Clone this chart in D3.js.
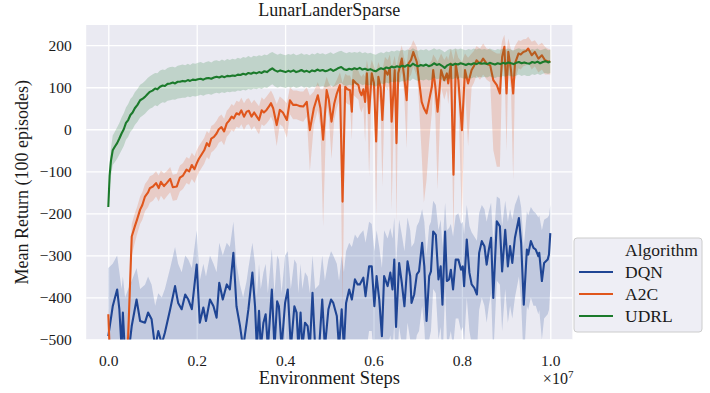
<!DOCTYPE html>
<html>
<head>
<meta charset="utf-8">
<script src="https://cdn.jsdelivr.net/npm/d3@7"></script>
<style>
  body { margin: 0; background: #fff; }
  svg text { font-family: "Liberation Serif", "Times New Roman", serif; fill: #1a1a1a; }
</style>
</head>
<body>
<svg width="710" height="393"></svg>
<script>
const algorithms = ["DQN", "A2C", "UDRL"];
const colors = ["#1f4594", "#e0561c", "#1b7a2b"];

const xTicks = [0, 0.2, 0.4, 0.6, 0.8, 1.0];
const yTicks = [-500, -400, -300, -200, -100, 0, 100, 200];

// steps are in units of 1e7 environment steps
const dqnSteps = [
  0, 0.010, 0.020, 0.025, 0.030, 0.033, 0.038, 0.045, 0.053, 0.064,
  0.072, 0.083, 0.090, 0.098, 0.106, 0.113, 0.121, 0.128, 0.140, 0.151,
  0.158, 0.166, 0.174, 0.181, 0.189, 0.200, 0.207, 0.215, 0.221, 0.230,
  0.238, 0.245, 0.251, 0.259, 0.268, 0.275, 0.283, 0.290, 0.298, 0.305,
  0.313, 0.317, 0.326, 0.332, 0.336, 0.341, 0.345, 0.351, 0.356, 0.361,
  0.370, 0.376, 0.382, 0.386, 0.392, 0.400, 0.406, 0.413, 0.421, 0.426,
  0.430, 0.435, 0.439, 0.445, 0.451, 0.456, 0.462, 0.468, 0.477, 0.484,
  0.490, 0.498, 0.504, 0.509, 0.517, 0.522, 0.528, 0.533, 0.538, 0.545,
  0.551, 0.558, 0.564, 0.569, 0.577, 0.582, 0.590, 0.596, 0.602, 0.607,
  0.613, 0.619, 0.624, 0.632, 0.638, 0.643, 0.647, 0.651, 0.658, 0.664,
  0.670, 0.677, 0.683, 0.686, 0.692, 0.698, 0.703, 0.710, 0.715, 0.720,
  0.726, 0.730, 0.735, 0.741, 0.747, 0.752, 0.756, 0.762, 0.766, 0.771,
  0.775, 0.780, 0.786, 0.792, 0.798, 0.802, 0.805, 0.811, 0.817, 0.822,
  0.828, 0.834, 0.839, 0.845, 0.851, 0.856, 0.861, 0.866, 0.871, 0.879,
  0.886, 0.891, 0.898, 0.904, 0.909, 0.914, 0.920, 0.929, 0.934, 0.940,
  0.947, 0.950, 0.956, 0.962, 0.967, 0.973, 0.975, 0.981, 0.986, 0.994,
  0.997, 1.000
];
const dqnMean = [
  -492, -421, -381, -428, -520, -436, -540, -540, -468, -405,
  -456, -460, -436, -452, -520, -480, -510, -484, -428, -373,
  -413, -428, -393, -405, -428, -322, -460, -424, -456, -405,
  -421, -448, -365, -405, -369, -381, -294, -421, -468, -520,
  -460, -428, -341, -421, -520, -432, -520, -460, -440, -520,
  -381, -520, -409, -421, -520, -413, -381, -520, -421, -436,
  -520, -436, -520, -460, -468, -520, -389, -520, -520, -405,
  -520, -428, -405, -413, -444, -520, -428, -520, -413, -381,
  -405, -357, -369, -369, -353, -397, -326, -326, -421, -349,
  -405, -492, -349, -373, -341, -381, -310, -470, -318, -365,
  -421, -314, -349, -413, -393, -345, -338, -270, -326, -456,
  -349, -338, -243, -251, -357, -326, -417, -243, -361, -357,
  -334, -381, -310, -310, -334, -326, -373, -262, -341, -369,
  -377, -393, -294, -266, -278, -322, -286, -258, -401, -219,
  -231, -338, -239, -326, -278, -318, -258, -211, -270, -417,
  -286, -298, -266, -282, -286, -302, -294, -361, -318, -310,
  -298, -247
];
const dqnLow = [
  -600, -600, -600, -600, -600, -600, -600, -600, -600, -600,
  -600, -600, -600, -600, -600, -600, -600, -600, -600, -600,
  -600, -600, -600, -600, -600, -600, -600, -600, -600, -600,
  -600, -600, -600, -600, -600, -600, -600, -600, -600, -600,
  -600, -600, -600, -600, -600, -600, -600, -600, -600, -600,
  -600, -600, -600, -600, -600, -600, -600, -600, -600, -600,
  -600, -600, -600, -600, -600, -600, -600, -600, -600, -600,
  -600, -600, -600, -600, -600, -600, -600, -600, -560, -540,
  -560, -520, -520, -520, -500, -540, -480, -480, -560, -500,
  -540, -600, -500, -520, -490, -530, -460, -600, -470, -510,
  -560, -460, -500, -550, -530, -490, -480, -420, -470, -580,
  -500, -480, -380, -390, -500, -470, -560, -380, -500, -500,
  -480, -520, -450, -450, -480, -470, -510, -400, -480, -510,
  -520, -530, -430, -400, -420, -460, -420, -390, -540, -360,
  -370, -480, -380, -460, -420, -450, -400, -350, -410, -560,
  -420, -430, -400, -420, -420, -440, -430, -500, -450, -440,
  -430, -380
];
const dqnHigh = [
  -330, -320, -300, -340, -380, -350, -400, -380, -360, -330,
  -380, -370, -350, -370, -420, -390, -400, -380, -330, -280,
  -320, -340, -300, -310, -330, -240, -360, -320, -350, -300,
  -320, -340, -270, -300, -270, -280, -220, -320, -370, -400,
  -360, -330, -270, -320, -400, -320, -380, -340, -320, -390,
  -285, -390, -300, -310, -390, -300, -290, -380, -310, -320,
  -390, -320, -380, -340, -350, -390, -300, -380, -370, -300,
  -360, -310, -290, -300, -320, -360, -300, -340, -290, -270,
  -280, -250, -260, -250, -240, -270, -220, -225, -290, -240,
  -280, -330, -240, -260, -235, -260, -210, -320, -215, -250,
  -290, -210, -240, -280, -270, -230, -220, -190, -220, -300,
  -230, -220, -170, -180, -240, -215, -280, -175, -240, -235,
  -225, -255, -205, -200, -225, -220, -250, -180, -230, -245,
  -255, -265, -200, -180, -190, -220, -195, -175, -270, -160,
  -165, -230, -170, -220, -190, -215, -180, -155, -185, -280,
  -195, -205, -185, -195, -200, -210, -205, -240, -215, -210,
  -205, -180
];

const a2cSteps = [
  0, 0.006, 0.036, 0.045, 0.053, 0.060, 0.065, 0.072, 0.077, 0.083,
  0.090, 0.094, 0.101, 0.108, 0.114, 0.119, 0.126, 0.132, 0.140, 0.146,
  0.155, 0.162, 0.169, 0.177, 0.183, 0.189, 0.195, 0.200, 0.205, 0.211,
  0.217, 0.223, 0.228, 0.233, 0.239, 0.245, 0.250, 0.256, 0.262, 0.268,
  0.273, 0.279, 0.284, 0.290, 0.296, 0.301, 0.307, 0.313, 0.318, 0.324,
  0.330, 0.336, 0.341, 0.347, 0.352, 0.358, 0.364, 0.368, 0.373, 0.381,
  0.388, 0.395, 0.404, 0.411, 0.418, 0.426, 0.434, 0.441, 0.449, 0.456,
  0.465, 0.474, 0.480, 0.486, 0.494, 0.499, 0.505, 0.511, 0.517, 0.524,
  0.530, 0.536, 0.541, 0.547, 0.551, 0.554, 0.560, 0.566, 0.569, 0.573,
  0.577, 0.581, 0.585, 0.590, 0.596, 0.601, 0.606, 0.611, 0.616, 0.620,
  0.626, 0.632, 0.637, 0.641, 0.648, 0.652, 0.656, 0.664, 0.669, 0.675,
  0.679, 0.685, 0.690, 0.698, 0.701, 0.709, 0.714, 0.720, 0.726, 0.732,
  0.735, 0.740, 0.745, 0.753, 0.760, 0.766, 0.769, 0.775, 0.781, 0.786,
  0.792, 0.800, 0.807, 0.814, 0.822, 0.827, 0.833, 0.841, 0.848, 0.856,
  0.864, 0.871, 0.879, 0.886, 0.891, 0.896, 0.901, 0.905, 0.911, 0.916,
  0.920, 0.928, 0.933, 0.939, 0.945, 0.950, 0.958, 0.965, 0.973, 0.981,
  0.988, 0.994, 1.000
];
const a2cMean = [
  -440, -600, -600, -492, -255, -231, -215, -191, -180, -160,
  -150, -140, -136, -128, -140, -125, -135, -128, -118, -138,
  -136, -115, -110, -96, -100, -85, -95, -81, -70, -60,
  -50, -33, -40, -22, -18, -10, 0, 5, -5, 14,
  20, 30, 26, 38, 35, 45, 30, 42, 44, 30,
  40, 30, 22, 45, 40, 46, 55, 62, 50, 10,
  46, 40, 22, 69, 58, 58, 55, 54, 65, -2,
  50, 81, 50, -25, 93, 70, 18, 60, 85, 105,
  -172, 101, 95, 93, 42, 117, 110, 105, 90, 81,
  95, 65, 133, 38, 133, 110, -29, 125, 100, 22,
  141, 130, 145, 18, 141, -33, 133, 168, 130, 69,
  156, 165, 184, 160, 133, 65, 50, 38, 70, 101,
  141, 100, 42, 141, 117, 133, 109, 156, -108, 156,
  117, -2, 141, 109, 141, 150, 164, 156, 168, 156,
  152, 117, 105, 85, 172, 196, 85, 184, 141, 85,
  156, 180, 178, 184, 186, 192, 176, 184, 168, 176,
  164, 162, 160
];
const a2cLow = [
  -520, -640, -640, -540, -300, -270, -250, -225, -215, -195,
  -185, -175, -170, -160, -172, -158, -168, -160, -150, -170,
  -168, -148, -142, -128, -132, -118, -128, -114, -102, -92,
  -82, -66, -72, -55, -50, -42, -32, -28, -38, -18,
  -12, -2, -6, 6, 3, 12, -2, 10, 12, -2,
  8, -4, -12, 12, 8, 14, 22, 30, 18, -40,
  12, 6, -20, 36, 24, 24, 20, 18, 30, -100,
  10, 45, 5, -231, 58, 30, -70, 20, 50, 72,
  -430, 66, 60, 58, -25, 82, 76, 70, 50, 40,
  55, -30, 98, -112, 98, 70, -207, 88, 55, -136,
  105, 92, 110, -191, 105, -223, 95, 135, 90, -45,
  120, 130, 150, 125, 95, -60, -175, -120, -30, 40,
  100, 30, -144, 100, 70, 92, 60, 118, -250, 118,
  70, -220, 100, -41, 100, 110, 128, 118, 130, 118,
  112, -49, -89, -89, 130, 160, -53, 145, 95, -120,
  115, 145, 142, 150, 152, 158, 142, 150, 135, 142,
  130, 130, 130
];
const a2cHigh = [
  -425, -560, -560, -450, -225, -200, -185, -160, -150, -130,
  -120, -112, -108, -100, -110, -98, -105, -100, -90, -108,
  -106, -86, -80, -66, -70, -56, -64, -50, -40, -30,
  -20, -4, -10, 8, 12, 20, 30, 35, 25, 44,
  50, 60, 56, 68, 65, 75, 62, 72, 74, 62,
  70, 62, 55, 76, 70, 78, 86, 92, 82, 60,
  78, 72, 62, 100, 92, 92, 90, 90, 100, 80,
  90, 112, 95, 95, 125, 110, 100, 105, 118, 135,
  110, 132, 128, 128, 115, 148, 142, 140, 130, 125,
  132, 125, 165, 135, 165, 150, 135, 160, 145, 140,
  172, 165, 178, 145, 175, 145, 170, 200, 170, 150,
  190, 198, 212, 195, 175, 150, 150, 148, 155, 165,
  178, 170, 160, 180, 165, 175, 165, 192, 165, 192,
  170, 160, 180, 170, 180, 186, 198, 192, 204, 192,
  190, 185, 180, 180, 210, 225, 185, 216, 190, 185,
  198, 212, 210, 214, 215, 220, 208, 212, 200, 206,
  196, 192, 190
];

const udrlSteps = [
  0, 0.003, 0.006, 0.01, 0.015, 0.02, 0.025, 0.03, 0.035, 0.04,
  0.045, 0.05, 0.055, 0.06, 0.066, 0.072, 0.078, 0.083, 0.089, 0.094,
  0.1, 0.106, 0.111, 0.117, 0.123, 0.128, 0.134, 0.14, 0.146, 0.151,
  0.157, 0.162, 0.168, 0.174, 0.18, 0.185, 0.191, 0.197, 0.203, 0.209,
  0.215, 0.221, 0.227, 0.233, 0.239, 0.245, 0.251, 0.257, 0.263, 0.269,
  0.275, 0.281, 0.287, 0.293, 0.299, 0.305, 0.311, 0.317, 0.323, 0.329,
  0.335, 0.341, 0.347, 0.353, 0.359, 0.365, 0.371, 0.377, 0.383, 0.389,
  0.395, 0.401, 0.407, 0.413, 0.419, 0.425, 0.431, 0.437, 0.443, 0.449,
  0.455, 0.461, 0.467, 0.473, 0.479, 0.485, 0.491, 0.497, 0.503, 0.509,
  0.515, 0.521, 0.527, 0.533, 0.539, 0.545, 0.551, 0.557, 0.563, 0.569,
  0.575, 0.581, 0.587, 0.593, 0.599, 0.605, 0.611, 0.617, 0.623, 0.629,
  0.635, 0.641, 0.647, 0.653, 0.659, 0.665, 0.671, 0.677, 0.683, 0.689,
  0.695, 0.701, 0.707, 0.713, 0.719, 0.725, 0.731, 0.737, 0.743, 0.749,
  0.755, 0.761, 0.767, 0.773, 0.779, 0.785, 0.791, 0.797, 0.803, 0.809,
  0.815, 0.821, 0.827, 0.833, 0.839, 0.845, 0.851, 0.857, 0.863, 0.869,
  0.875, 0.881, 0.887, 0.893, 0.899, 0.905, 0.911, 0.917, 0.923, 0.929,
  0.935, 0.941, 0.947, 0.953, 0.959, 0.965, 0.971, 0.977, 0.983, 0.989,
  0.995, 1
];
const udrlMean = [
  -185, -110, -75, -50, -41, -33, -22, -10, 0, 15,
  22, 34, 40, 50, 58, 69, 73, 77, 84, 89,
  92, 97, 95, 101, 104, 103, 108, 109, 111, 109,
  113, 113, 115, 114, 117, 115, 118, 117, 119, 120,
  118, 121, 122, 120, 123, 125, 123, 126, 124, 127,
  126, 128, 127, 130, 129, 132, 130, 134, 132, 135,
  133, 136, 134, 138, 136, 141, 145, 140, 137, 140,
  138, 136, 139, 137, 140, 136, 138, 141, 137, 139,
  136, 140, 138, 142, 139, 141, 138, 140, 143, 139,
  142, 146, 148, 143, 141, 144, 142, 145, 143, 146,
  142, 144, 141, 143, 140, 138, 142, 145, 143, 147,
  145, 149, 147, 150, 148, 151, 149, 153, 150, 156,
  152, 150, 153, 151, 154, 150, 152, 157, 153, 155,
  151, 146, 152, 155, 153, 156, 154, 157, 155, 153,
  156, 154, 157, 155, 158, 156, 157, 155, 158, 156,
  154, 157, 155, 158, 156, 159, 157, 155, 158, 160,
  157, 159, 157, 156, 160, 158, 161, 157, 160, 162,
  159, 161
];
const udrlLow = [
  -195, -140, -110, -85, -78, -70, -60, -50, -40, -25,
  -18, -6, 0, 10, 18, 28, 33, 37, 44, 49,
  52, 57, 55, 61, 64, 63, 68, 69, 71, 70,
  73, 74, 75, 75, 78, 76, 79, 78, 80, 82,
  80, 83, 84, 82, 85, 87, 85, 88, 86, 89,
  88, 90, 89, 92, 91, 94, 92, 96, 94, 97,
  95, 98, 96, 100, 98, 103, 107, 102, 99, 102,
  100, 98, 101, 99, 102, 98, 100, 103, 99, 101,
  98, 102, 100, 104, 101, 103, 100, 102, 105, 101,
  104, 108, 110, 105, 103, 106, 104, 108, 106, 109,
  105, 107, 104, 106, 104, 102, 106, 109, 107, 111,
  109, 113, 111, 114, 112, 115, 113, 117, 115, 121,
  117, 115, 118, 116, 119, 116, 118, 123, 119, 121,
  117, 112, 118, 121, 119, 122, 120, 123, 121, 120,
  123, 121, 124, 122, 125, 123, 125, 123, 126, 124,
  122, 125, 124, 127, 125, 128, 126, 125, 128, 130,
  127, 129, 127, 127, 131, 129, 132, 129, 132, 134,
  132, 134
];
const udrlHigh = [
  -175, -85, -45, -15, -5, 5, 15, 28, 38, 52,
  60, 72, 78, 88, 96, 106, 110, 115, 122, 126,
  130, 134, 133, 140, 142, 141, 146, 148, 149, 147,
  151, 152, 154, 152, 156, 153, 157, 156, 158, 160,
  157, 160, 162, 159, 163, 164, 162, 166, 163, 167,
  165, 168, 166, 170, 168, 172, 170, 174, 171, 175,
  173, 176, 174, 178, 176, 181, 184, 180, 177, 180,
  178, 176, 179, 177, 180, 176, 178, 181, 177, 179,
  176, 180, 178, 182, 179, 181, 178, 180, 183, 179,
  182, 185, 187, 183, 181, 184, 182, 184, 182, 185,
  181, 183, 180, 182, 179, 177, 181, 183, 181, 185,
  183, 187, 185, 188, 186, 189, 187, 190, 188, 193,
  189, 187, 190, 188, 191, 187, 189, 193, 189, 191,
  188, 183, 188, 191, 189, 192, 190, 192, 190, 188,
  191, 189, 192, 190, 192, 190, 191, 189, 192, 190,
  188, 191, 189, 192, 190, 192, 190, 188, 191, 193,
  190, 191, 189, 188, 191, 189, 192, 188, 190, 192,
  188, 189
];

const zip = (steps, mean, low, high) =>
  steps.map((s, i) => ({ s, mean: mean[i], low: low[i], high: high[i] }));

const series = [
  zip(dqnSteps, dqnMean, dqnLow, dqnHigh),
  zip(a2cSteps, a2cMean, a2cLow, a2cHigh),
  zip(udrlSteps, udrlMean, udrlLow, udrlHigh),
];

const plotLeft = 86.2, plotRight = 572.4, plotTop = 25, plotBottom = 339.5;

const x = d3.scaleLinear().domain([-0.05, 1.05]).range([plotLeft, plotRight]);
const y = d3.scaleLinear().domain([-500, 248]).range([plotBottom, plotTop]);

const svg = d3.select("svg");

svg.append("defs").append("clipPath")
  .attr("id", "plot-clip")
  .append("rect")
  .attr("x", plotLeft).attr("y", plotTop)
  .attr("width", plotRight - plotLeft).attr("height", plotBottom - plotTop);

svg.append("rect")
  .attr("x", plotLeft).attr("y", plotTop)
  .attr("width", plotRight - plotLeft).attr("height", plotBottom - plotTop)
  .attr("fill", "#eaeaf2");

// white grid
svg.append("g")
  .attr("transform", `translate(0,${plotBottom})`)
  .call(d3.axisBottom(x).tickValues(xTicks).tickSize(-(plotBottom - plotTop)).tickFormat(""))
  .call(g => g.select(".domain").remove())
  .call(g => g.selectAll("line").attr("stroke", "#fff").attr("stroke-width", 1.3));

svg.append("g")
  .attr("transform", `translate(${plotLeft},0)`)
  .call(d3.axisLeft(y).tickValues(yTicks).tickSize(-(plotRight - plotLeft)).tickFormat(""))
  .call(g => g.select(".domain").remove())
  .call(g => g.selectAll("line").attr("stroke", "#fff").attr("stroke-width", 1.3));

// tick labels
const minus = d => d < 0 ? "\u2212" + (-d) : String(d);

svg.append("g")
  .attr("transform", `translate(0,${plotBottom})`)
  .call(d3.axisBottom(x).tickValues(xTicks).tickSize(0).tickPadding(15).tickFormat(d3.format(".1f")))
  .call(g => g.select(".domain").remove())
  .call(g => g.selectAll("text").attr("font-size", 15.5).attr("font-family", null));

svg.append("g")
  .attr("transform", `translate(${plotLeft},0)`)
  .call(d3.axisLeft(y).tickValues(yTicks).tickSize(0).tickPadding(14.5).tickFormat(minus))
  .call(g => g.select(".domain").remove())
  .call(g => g.selectAll("text").attr("font-size", 15.5).attr("font-family", null));

// bands and lines
const plot = svg.append("g").attr("clip-path", "url(#plot-clip)");

const area = d3.area()
  .x(d => x(d.s))
  .y0(d => y(d.low))
  .y1(d => y(d.high));

const line = d3.line()
  .x(d => x(d.s))
  .y(d => y(d.mean));

series.forEach((data, i) => {
  plot.append("path")
    .datum(data)
    .attr("d", area)
    .attr("fill", colors[i])
    .attr("fill-opacity", 0.2);
  plot.append("path")
    .datum(data)
    .attr("d", line)
    .attr("fill", "none")
    .attr("stroke", colors[i])
    .attr("stroke-width", 2.1)
    .attr("stroke-linejoin", "round");
});

// titles
const midX = (plotLeft + plotRight) / 2;

svg.append("text")
  .attr("x", midX).attr("y", 16)
  .attr("text-anchor", "middle")
  .attr("font-size", 18)
  .text("LunarLanderSparse");

svg.append("text")
  .attr("x", midX).attr("y", 384)
  .attr("text-anchor", "middle")
  .attr("font-size", 18.5)
  .text("Environment Steps");

svg.append("text")
  .attr("transform", `translate(28,${(plotTop + plotBottom) / 2}) rotate(-90)`)
  .attr("text-anchor", "middle")
  .attr("font-size", 18)
  .text("Mean Return (100 episodes)");

const offset = svg.append("text")
  .attr("x", plotRight + 1).attr("y", 384)
  .attr("text-anchor", "end")
  .attr("font-size", 16);
offset.append("tspan").text("\u00d710");
offset.append("tspan").attr("dy", -6).attr("font-size", 11).text("7");

// legend
const legend = svg.append("g").attr("transform", "translate(574,238)");

legend.append("rect")
  .attr("width", 128).attr("height", 94)
  .attr("rx", 3)
  .attr("fill", "#eaeaf2").attr("fill-opacity", 0.8)
  .attr("stroke", "#cccccc");

legend.append("text")
  .attr("x", 51).attr("y", 18)
  .attr("font-size", 17.5)
  .text("Algorithm");

const items = legend.selectAll("g.item")
  .data(algorithms)
  .enter()
  .append("g")
  .attr("class", "item")
  .attr("transform", (d, i) => `translate(0,${34 + i * 22})`);

items.append("line")
  .attr("x1", 5).attr("x2", 39)
  .attr("stroke", (d, i) => colors[i])
  .attr("stroke-width", 2.1);

items.append("text")
  .attr("x", 51).attr("y", 6)
  .attr("font-size", 17.5)
  .text(d => d);
</script>
</body>
</html>
